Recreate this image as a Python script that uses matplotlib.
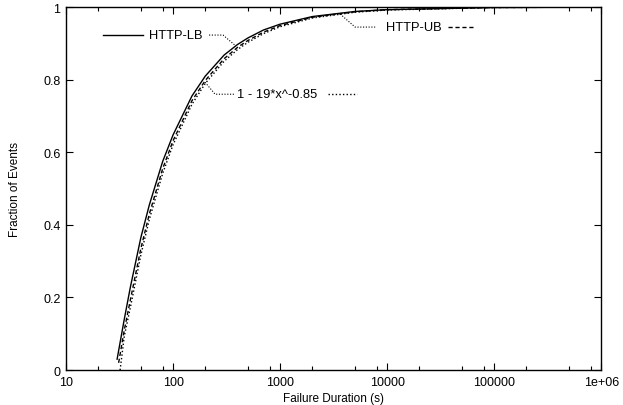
import numpy as np
import matplotlib
matplotlib.use('Agg')
import matplotlib.pyplot as plt
from matplotlib.ticker import LogLocator, FixedLocator, NullFormatter

plt.rcParams['font.family'] = ['Liberation Sans', 'DejaVu Sans']

# failure duration (s)
lb_x = [30, 35, 40, 50, 60, 80, 100, 150, 200, 300, 400, 500, 700, 1000, 2000, 5000, 10000, 100000, 1000000]
lb_y = [0.03, 0.14, 0.23, 0.365, 0.455, 0.575, 0.648, 0.755, 0.81, 0.868, 0.897, 0.915, 0.937, 0.953, 0.974, 0.988, 0.993, 0.999, 1.0]

ub_x = [31, 35, 40, 50, 60, 80, 100, 150, 200, 300, 400, 500, 700, 1000, 2000, 5000, 10000, 100000, 1000000]
ub_y = [0.02, 0.11, 0.195, 0.335, 0.43, 0.555, 0.632, 0.742, 0.798, 0.858, 0.889, 0.908, 0.931, 0.949, 0.972, 0.987, 0.993, 0.999, 1.0]

# 1 - 19*x^-0.85
fit_x = [32, 35, 40, 50, 60, 80, 100, 150, 200, 300, 400, 500, 700, 1000, 2000, 5000, 10000, 100000, 1000000]
fit_y = [0.0, 0.093, 0.174, 0.317, 0.415, 0.542, 0.621, 0.732, 0.790, 0.851, 0.883, 0.903, 0.927, 0.946, 0.970, 0.986, 0.992, 0.999, 1.0]

fig = plt.figure(figsize=(6.23, 4.06), dpi=100)
ax = fig.add_axes([0.106, 0.086, 0.859, 0.894])

dotted = (0, (1, 1.6))
dashed = (0, (3, 2))

ax.plot(lb_x, lb_y, color='black', lw=1.0, ls='-')
ax.plot(ub_x, ub_y, color='black', lw=1.0, ls=dashed)
ax.plot(fit_x, fit_y, color='black', lw=1.0, ls=dotted)

ax.set_xscale('log')
ax.set_xlim(10, 1e6)
ax.set_ylim(0, 1)

ax.xaxis.set_major_locator(FixedLocator([10, 100, 1000, 10000, 100000, 1e6]))
ax.set_xticklabels(['10', '100', '1000', '10000', '100000', '1e+06'])
ax.xaxis.set_minor_locator(LogLocator(base=10, subs=(2, 5, 8)))
ax.xaxis.set_minor_formatter(NullFormatter())
ax.set_yticks([0, 0.2, 0.4, 0.6, 0.8, 1.0])
ax.set_yticklabels(['0', '0.2', '0.4', '0.6', '0.8', '1'])

ax.tick_params(which='both', direction='in', top=True, right=True, labelsize=9, pad=4)
ax.tick_params(which='major', length=5, width=0.8)
ax.tick_params(which='minor', length=3, width=0.8)
for s in ax.spines.values():
    s.set_linewidth(1.0)

ax.set_xlabel('Failure Duration (s)', fontsize=8.5, labelpad=3)
ax.set_ylabel('Fraction of Events', fontsize=8.5, labelpad=16)

# labels with key samples and leader lines
lead = dict(color='black', lw=0.8, ls=(0, (1, 1.5)))
# HTTP-LB
ax.plot([22, 52], [0.923, 0.923], color='black', lw=1.0)
ax.text(60, 0.923, 'HTTP-LB', fontsize=9.3, va='center', ha='left')
ax.plot([217, 293, 379], [0.923, 0.923, 0.895], **lead)
# HTTP-UB
ax.plot([3640, 5020, 7730], [0.981, 0.945, 0.945], **lead)
ax.text(9800, 0.945, 'HTTP-UB', fontsize=9.3, va='center', ha='left')
ax.plot([37000, 64000], [0.945, 0.945], color='black', lw=1.0, ls=dashed)
# fit
ax.plot([199, 247, 380], [0.793, 0.76, 0.76], **lead)
ax.text(396, 0.76, '1 - 19*x^-0.85', fontsize=9.3, va='center', ha='left')
ax.plot([2810, 5250], [0.76, 0.76], color='black', lw=1.0, ls=dotted)

fig.savefig('out.png', dpi=100)
